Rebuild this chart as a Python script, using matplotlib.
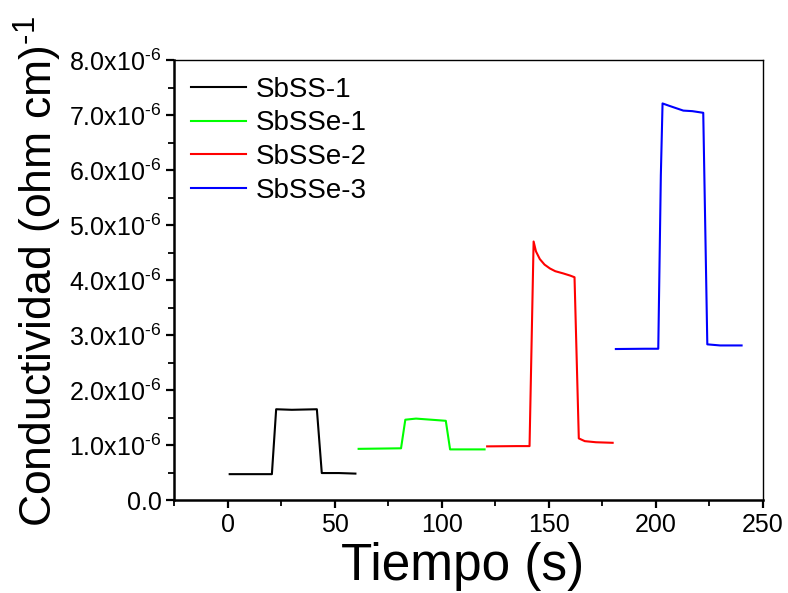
import matplotlib
matplotlib.use('Agg')
import matplotlib.pyplot as plt
from matplotlib.ticker import MultipleLocator, FixedLocator

plt.rcParams['font.family'] = ['Liberation Sans', 'DejaVu Sans']
plt.rcParams['mathtext.fontset'] = 'custom'
plt.rcParams['mathtext.rm'] = 'Liberation Sans'
plt.rcParams['mathtext.it'] = 'Liberation Sans'

# values (conductivity in units of 1e-6 (ohm cm)^-1)
t_sbss1 = [1, 20.7, 22.7, 30, 41.7, 44, 52, 59.7]
c_sbss1 = [0.47, 0.47, 1.65, 1.64, 1.65, 0.49, 0.49, 0.48]

t_sbsse1 = [61.2, 81, 82, 83, 88, 95, 101.9, 103.9, 110, 120]
c_sbsse1 = [0.93, 0.94, 1.2, 1.46, 1.48, 1.46, 1.44, 0.92, 0.92, 0.92]

t_sbsse2 = [121.2, 135, 141, 142.9, 144, 145.8, 148, 150.5, 153, 156.7, 160, 162,
            164, 166.8, 172, 179.8]
c_sbsse2 = [0.975, 0.98, 0.98, 4.70, 4.52, 4.38, 4.28, 4.21, 4.16, 4.12, 4.08, 4.05,
            1.12, 1.07, 1.05, 1.04]

t_sbsse3 = [181.3, 195, 201.1, 202.3, 203.1, 206, 209, 212.8, 217, 222.1, 224, 230, 240]
c_sbsse3 = [2.745, 2.75, 2.75, 5.9, 7.21, 7.17, 7.13, 7.08, 7.07, 7.04, 2.83, 2.81, 2.81]

series = [
    ('SbSS-1', t_sbss1, c_sbss1, 'black'),
    ('SbSSe-1', t_sbsse1, c_sbsse1, '#00ff00'),
    ('SbSSe-2', t_sbsse2, c_sbsse2, 'red'),
    ('SbSSe-3', t_sbsse3, c_sbsse3, 'blue'),
]

y_ticks = [0, 1, 2, 3, 4, 5, 6, 7, 8]
y_labels = ['0.0'] + [r'%d.0x10$^{\text{-6}}$' % v for v in y_ticks[1:]]

fig = plt.figure(figsize=(7.88, 5.93), dpi=100)
ax = fig.add_axes([174 / 788, 93 / 593, 589 / 788, 440 / 593])

for name, t, c, col in series:
    ax.plot(t, [v * 1e-6 for v in c], color=col, lw=1.5, label=name)

ax.set_xlim(-25, 250)
ax.set_ylim(0, 8e-6)
ax.xaxis.set_major_locator(FixedLocator([0, 50, 100, 150, 200, 250]))
ax.xaxis.set_minor_locator(MultipleLocator(25))
ax.yaxis.set_major_locator(FixedLocator([v * 1e-6 for v in y_ticks]))
ax.yaxis.set_minor_locator(MultipleLocator(0.5e-6))
ax.set_yticklabels(y_labels)
ax.yaxis.get_offset_text().set_visible(False)

ax.tick_params(which='major', direction='out', length=6, width=1.6, labelsize=18, pad=3)
ax.tick_params(which='minor', direction='out', length=4, width=1.3)
ax.tick_params(top=False, right=False)
for s in ['left', 'bottom']:
    ax.spines[s].set_linewidth(1.8)
for s in ['top', 'right']:
    ax.spines[s].set_linewidth(1.0)

ax.set_xlabel('Tiempo (s)', fontsize=37)
ax.xaxis.set_label_coords(0.49, -0.095)
ax.set_ylabel(r'Conductividad (ohm cm)$^{\text{-1}}$', fontsize=32)
ax.yaxis.set_label_coords(-0.186, 0.52)

ax.legend(loc='upper left', frameon=False, fontsize=20, handlelength=2.0,
          handletextpad=0.35, labelspacing=0.28, borderaxespad=0.2,
          bbox_to_anchor=(0.0, 1.0))

fig.savefig('out.png', dpi=100)
